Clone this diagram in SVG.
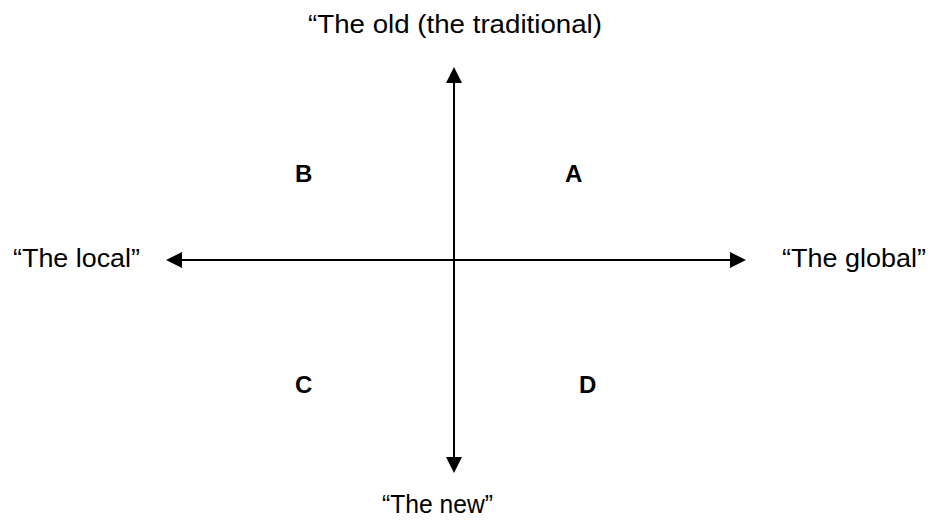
<svg xmlns="http://www.w3.org/2000/svg" width="928" height="528" viewBox="0 0 928 528">
<style>
.lbl{font-family:"Liberation Sans","Open Sans",sans-serif;font-size:25px;fill:#000}
.q{font-family:"Liberation Sans","Open Sans",sans-serif;font-size:24px;font-weight:bold;fill:#000}
.ax{stroke:#000;stroke-width:2;fill:none}
</style>
<defs>
<marker id="ah" markerUnits="userSpaceOnUse" markerWidth="16" markerHeight="16" refX="0" refY="8" orient="auto" viewBox="0 0 16 16">
<path d="M0,0 L16,8 L0,16 z" fill="#000"/>
</marker>
</defs>
<g id="connectors">
<line class="ax" x1="454" y1="260" x2="454" y2="83" marker-end="url(#ah)"/>
<line class="ax" x1="454" y1="260" x2="454" y2="457" marker-end="url(#ah)"/>
<line class="ax" x1="454" y1="260" x2="182" y2="260" marker-end="url(#ah)"/>
<line class="ax" x1="454" y1="260" x2="730" y2="260" marker-end="url(#ah)"/>
</g>
<g id="old"><text class="lbl" x="308" y="33" textLength="294" lengthAdjust="spacingAndGlyphs">“The old (the traditional)</text></g>
<g id="new"><text class="lbl" x="382" y="513" textLength="111" lengthAdjust="spacingAndGlyphs">“The new”</text></g>
<g id="local"><text class="lbl" x="13" y="267" textLength="127" lengthAdjust="spacingAndGlyphs">“The local”</text></g>
<g id="global"><text class="lbl" x="782" y="267" textLength="144" lengthAdjust="spacingAndGlyphs">“The global”</text></g>
<g id="A"><text class="q" x="565" y="182">A</text></g>
<g id="B"><text class="q" x="295" y="182">B</text></g>
<g id="C"><text class="q" x="295" y="393">C</text></g>
<g id="D"><text class="q" x="579" y="393">D</text></g>
</svg>
